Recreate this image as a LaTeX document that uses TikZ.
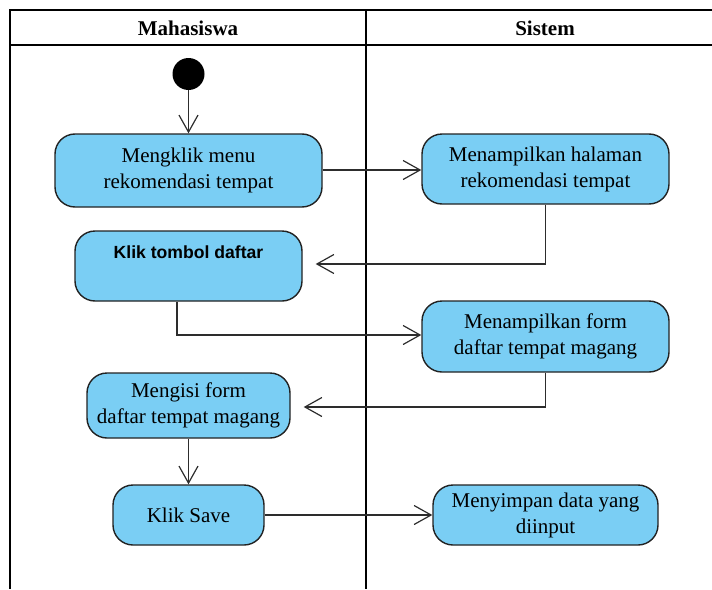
\documentclass[tikz,border=0pt]{standalone}
\usepackage{fontspec}
\setmainfont{Liberation Serif}
\newfontfamily\arialfont{Liberation Sans}
\usetikzlibrary{arrows.meta}
\definecolor{actfill}{RGB}{122,206,244}
\definecolor{actline}{RGB}{34,34,34}
\definecolor{flowline}{RGB}{45,45,45}
\begin{document}
\begin{tikzpicture}[x=1pt,y=-1pt,
  lane/.style={line width=1.2pt, draw=black},
  act/.style={draw=actline, fill=actfill, line width=1.4pt, rounded corners=20pt,
    align=center, inner sep=0pt, font=\fontsize{21}{26}\selectfont},
  flow/.style={draw=flowline, line width=1.2pt,
    -{Straight Barb[length=17pt,width=19pt,line width=1.2pt]}},
  hdr/.style={font=\bfseries\fontsize{21}{24}\selectfont},
  startdot/.style={circle, fill=black, minimum size=32pt, inner sep=0pt}]
\useasboundingbox (0,0) rectangle (712,589);

% swimlane frame
\draw[lane] (712,10) -- (10,10) -- (10,589);
\draw[lane] (10,45) -- (712,45);
\draw[lane] (366,10) -- (366,589);
\node[hdr] (hm) at (188,28) {Mahasiswa};
\node[hdr] (hs) at (545,28) {Sistem};

% initial node
\node[startdot] (start) at (188.5,74) {};

% activities
\node[act, minimum width=267pt, minimum height=73pt] (a1) at (188.5,170.5)
  {Mengklik menu\\rekomendasi tempat};
\node[act, minimum width=247pt, minimum height=70pt] (s1) at (545.5,169)
  {Menampilkan halaman\\rekomendasi tempat};
\node[act, minimum width=227pt, minimum height=70pt, text height=13pt, text depth=28pt,
  font=\arialfont\bfseries\fontsize{17.6}{21}\selectfont] (a2) at (188.5,266)
  {Klik tombol daftar};
\node[act, minimum width=247pt, minimum height=71pt] (s2) at (545.5,336.5)
  {Menampilkan form\\daftar tempat magang};
\node[act, minimum width=203pt, minimum height=65pt] (a3) at (188.5,405.5)
  {Mengisi form\\daftar tempat magang};
\node[act, minimum width=151pt, minimum height=60pt] (a4) at (188.5,515)
  {Klik Save};
\node[act, minimum width=225pt, minimum height=60pt] (s3) at (545.5,515)
  {Menyimpan data yang\\diinput};

% control flows
\draw[flow] (start) -- (a1.north);
\draw[flow] (a1.east |- 0,170) -- (s1.west |- 0,170);
\draw[flow, shorten >=13pt] (s1.south) |- (a2.east |- 0,264);
\draw[flow] ([xshift=-11.5pt]a2.south) |- (s2.west |- 0,335);
\draw[flow, shorten >=13pt] (s2.south) |- (a3.east |- 0,407);
\draw[flow] (a3.south) -- (a4.north);
\draw[flow] (a4.east) -- (s3.west);
\end{tikzpicture}
\end{document}
